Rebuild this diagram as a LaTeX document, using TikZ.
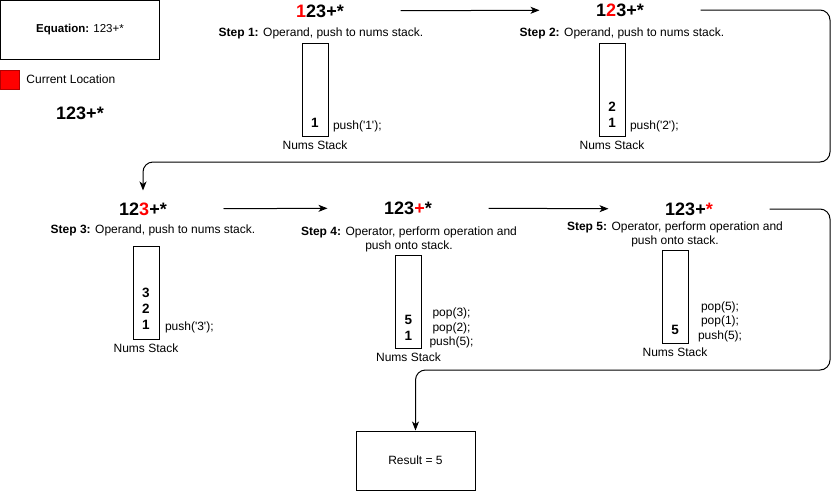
\documentclass[tikz,border=0pt]{standalone}
\usepackage{fontspec}
\setmainfont{Liberation Sans}[Ligatures=TeXOff]
\usetikzlibrary{positioning,arrows.meta}
\newcommand{\curloc}[1]{\textcolor{red}{#1}}
\tikzset{
  expr/.style       = {font=\fontsize{18}{20}\selectfont\bfseries,
                       minimum width=160pt, minimum height=36pt, inner sep=0pt},
  stepinfo/.style   = {align=center, inner sep=0pt},
  stack/.style      = {draw, minimum width=26pt, minimum height=93pt, inner sep=0pt},
  vals/.style       = {font=\fontsize{13.5}{16}\selectfont\bfseries,
                       align=center, inner sep=0pt},
  ops/.style        = {font=\fontsize{12}{14.5}\selectfont, align=center, inner sep=0pt},
  stacklabel/.style = {inner sep=0pt},
  infobox/.style    = {draw, align=center},
  link/.style       = {draw, -{Stealth[length=9pt, width=7pt, inset=2.5pt]},
                       rounded corners=10pt}
}

\begin{document}
\begin{tikzpicture}
  [
    x = 1pt, y = -1pt,
    line width = 1pt,
    every node/.style = {font=\fontsize{12}{14.5}\selectfont}
  ]
  \useasboundingbox (0,0) rectangle (839,491);

  % legend
  \node [infobox, minimum width=159pt, minimum height=59pt,
         font=\fontsize{11.5}{14}\selectfont] (eq) at (80,30)
        {\textbf{Equation:} 123+*};
  \node [draw=red!70!black, fill=red, line width=0.8pt,
         minimum size=19pt, inner sep=0pt] (key) at (10,80) {};
  \node [anchor=west, inner sep=0pt] (keytext) at (26,79) {Current Location};
  \node [expr] (start) at (80,113) {123+*};

  % step 1
  \node [expr] (t1) at (320,11) {\curloc{1}23+*};
  \node [stepinfo] (i1) at (321,33) {\textbf{Step 1:} Operand, push to nums stack.};
  \node [stack] (s1) at (315,90) {};
  \node [vals, above=9pt of s1.south] (v1) {1};
  \node [ops, above right=5pt and 4pt of s1.south east] (o1) {push('1');};
  \node [stacklabel, below=3.5pt of s1] (n1) {Nums Stack};

  % step 2
  \node [expr] (t2) at (620,10) {1\curloc{2}3+*};
  \node [stepinfo] (i2) at (622,33) {\textbf{Step 2:} Operand, push to nums stack.};
  \node [stack] (s2) at (612,90) {};
  \node [vals, above=9pt of s2.south] (v2) {2\\1};
  \node [ops, above right=5pt and 4pt of s2.south east] (o2) {push('2');};
  \node [stacklabel, below=3.5pt of s2] (n2) {Nums Stack};

  % step 3
  \node [expr] (t3) at (143,209) {12\curloc{3}+*};
  \node [stepinfo] (i3) at (153,230) {\textbf{Step 3:} Operand, push to nums stack.};
  \node [stack] (s3) at (146,292.5) {};
  \node [vals, above=10pt of s3.south] (v3) {3\\2\\1};
  \node [ops, above right=6pt and 5pt of s3.south east] (o3) {push('3');};
  \node [stacklabel, below=3.5pt of s3] (n3) {Nums Stack};

  % step 4
  \node [expr] (t4) at (408,208) {123\curloc{+}*};
  \node [stepinfo] (i4) at (409,239.5)
        {\textbf{Step 4:} Operator, perform operation and\\push onto stack.};
  \node [stack] (s4) at (408.5,302) {};
  \node [vals, above=8pt of s4.south] (v4) {5\\1};
  \node [ops, above right=0.5pt and 7pt of s4.south east] (o4)
        {pop(3);\\pop(2);\\push(5);};
  \node [stacklabel, below=3.5pt of s4] (n4) {Nums Stack};

  % step 5
  \node [expr] (t5) at (689,209) {123+\curloc{*}};
  \node [stepinfo] (i5) at (675,234.5)
        {\textbf{Step 5:} Operator, perform operation and\\push onto stack.};
  \node [stack] (s5) at (675,296.5) {};
  \node [vals, above=8pt of s5.south] (v5) {5};
  \node [ops, above right=1.5pt and 9pt of s5.south east] (o5)
        {pop(5);\\pop(1);\\push(5);};
  \node [stacklabel, below=4pt of s5] (n5) {Nums Stack};

  % result
  \node [infobox, minimum width=119pt, minimum height=59pt] (res) at (415.5,460.5)
        {Result = 5};

  % connectors
  \coordinate (bend1) at (830,162);
  \coordinate (bend2) at (830,370);
  \draw [link] (t1) -- (t2);
  \draw [link] (t2.east) -| (bend1) -| (t3.north);
  \draw [link] (t3) -- (t4);
  \draw [link] (t4) -- (t5);
  \draw [link] (t5.east) -| (bend2) -| (res.north);
\end{tikzpicture}
\end{document}
